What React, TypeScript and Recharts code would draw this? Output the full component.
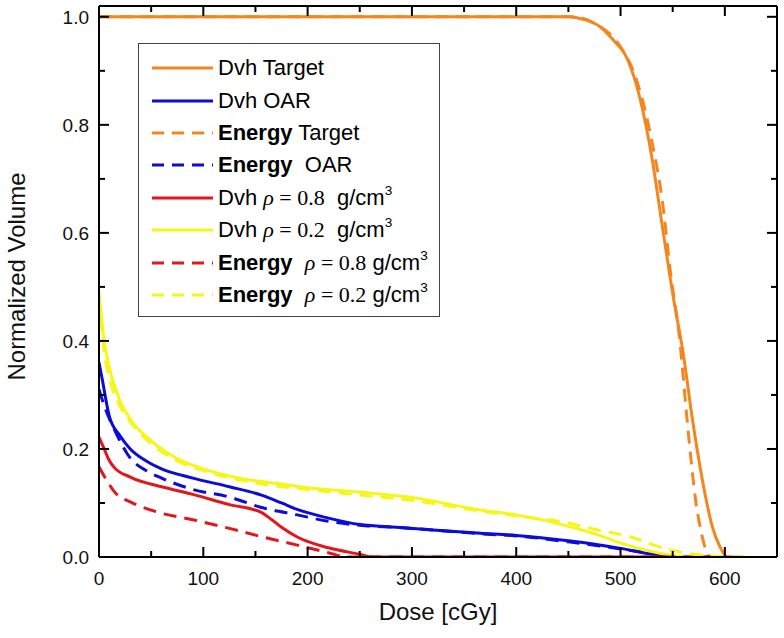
import React from 'react';
import { LineChart, Line, XAxis, YAxis, Legend } from 'recharts';

// tick positions
const doseTicks = [0, 50, 100, 150, 200, 250, 300, 350, 400, 450, 500, 550, 600];
const volumeTicks = [0, 0.1, 0.2, 0.3, 0.4, 0.5, 0.6, 0.7, 0.8, 0.9, 1.0];

// Dvh Target
const dvhTargetDose = [0, 450, 465, 480, 493, 507, 519, 530, 541, 551, 560, 569, 579, 588, 595, 601];
const dvhTargetVol = [1.0, 1.0, 0.995, 0.982, 0.957, 0.92, 0.846, 0.74, 0.6, 0.476, 0.378, 0.254, 0.137, 0.056, 0.02, 0];

// Dvh OAR
const dvhOarDose = [0, 3, 10, 20, 30, 45, 60, 90, 125, 155, 175, 190, 220, 250, 285, 320, 366, 400, 450, 500, 530, 545];
const dvhOarVol = [0.36, 0.33, 0.26, 0.225, 0.2, 0.178, 0.163, 0.146, 0.13, 0.115, 0.1, 0.088, 0.072, 0.06, 0.055, 0.05, 0.044, 0.04, 0.03, 0.016, 0.005, 0];

// Energy Target
const energyTargetDose = [0, 455, 474, 500, 513, 521, 531, 540, 548, 556, 565, 572, 578, 582, 585];
const energyTargetVol = [1.0, 1.0, 0.989, 0.944, 0.896, 0.846, 0.76, 0.66, 0.525, 0.415, 0.23, 0.105, 0.04, 0.012, 0];

// Energy OAR
const energyOarDose = [0, 5, 15, 30, 45, 60, 90, 125, 155, 190, 220, 255, 285, 320, 366, 400, 450, 500, 530, 555];
const energyOarVol = [0.31, 0.28, 0.235, 0.183, 0.16, 0.146, 0.125, 0.111, 0.092, 0.078, 0.066, 0.058, 0.055, 0.05, 0.043, 0.039, 0.028, 0.015, 0.006, 0];

// Dvh rho = 0.8
const dvhRho08Dose = [0, 5, 10, 15, 30, 60, 90, 125, 155, 165, 175, 190, 220, 250, 262, 600];
const dvhRho08Vol = [0.222, 0.2, 0.178, 0.165, 0.148, 0.13, 0.116, 0.097, 0.083, 0.07, 0.055, 0.037, 0.017, 0.005, 0, 0];

// Dvh rho = 0.2
const dvhRho02Dose = [0, 5, 10, 20, 30, 50, 75, 100, 125, 150, 175, 200, 250, 300, 366, 400, 452, 480, 500, 530, 550, 560];
const dvhRho02Vol = [0.49, 0.4, 0.35, 0.29, 0.255, 0.215, 0.182, 0.163, 0.15, 0.141, 0.135, 0.128, 0.12, 0.11, 0.087, 0.078, 0.056, 0.04, 0.026, 0.01, 0.003, 0];

// Energy rho = 0.8
const energyRho08Dose = [0, 7, 16, 30, 60, 90, 125, 155, 190, 220, 237, 620];
const energyRho08Vol = [0.167, 0.143, 0.118, 0.102, 0.081, 0.069, 0.053, 0.038, 0.022, 0.008, 0, 0];

// Energy rho = 0.2
const energyRho02Dose = [0, 5, 10, 20, 30, 50, 75, 100, 150, 200, 250, 300, 366, 400, 450, 478, 510, 532, 560, 590, 623];
const energyRho02Vol = [0.48, 0.38, 0.33, 0.28, 0.25, 0.21, 0.178, 0.16, 0.137, 0.125, 0.115, 0.105, 0.085, 0.076, 0.063, 0.05, 0.037, 0.022, 0.008, 0.002, 0];

const ORANGE = '#f5861f';
const BLUE = '#0b0bdc';
const RED = '#e2161b';
const YELLOW = '#f6f61a';
const DASH = '13 8';

const SANS = '"Liberation Sans", Arial, Helvetica, sans-serif';
const SERIF = '"Liberation Serif", "Times New Roman", serif';

const zip = (dose: number[], vol: number[]) => dose.map((d, i) => ({ d, v: vol[i] }));

const series = [
  { key: 'dvhTarget', data: zip(dvhTargetDose, dvhTargetVol), color: ORANGE, dashed: false },
  { key: 'dvhOar', data: zip(dvhOarDose, dvhOarVol), color: BLUE, dashed: false },
  { key: 'energyTarget', data: zip(energyTargetDose, energyTargetVol), color: ORANGE, dashed: true },
  { key: 'energyOar', data: zip(energyOarDose, energyOarVol), color: BLUE, dashed: true },
  { key: 'dvhRho08', data: zip(dvhRho08Dose, dvhRho08Vol), color: RED, dashed: false },
  { key: 'dvhRho02', data: zip(dvhRho02Dose, dvhRho02Vol), color: YELLOW, dashed: false },
  { key: 'energyRho08', data: zip(energyRho08Dose, energyRho08Vol), color: RED, dashed: true },
  { key: 'energyRho02', data: zip(energyRho02Dose, energyRho02Vol), color: YELLOW, dashed: true },
];

const Rho = ({ v }: { v: string }) => (
  <span style={{ fontFamily: SERIF }}>
    <i>ρ</i> = {v}
  </span>
);
const Gcm = () => (
  <span>
    g/cm<sup style={{ fontSize: '0.62em', verticalAlign: '0.75em', lineHeight: 0 }}>3</sup>
  </span>
);

const legendLabels: React.ReactNode[] = [
  <span>Dvh Target</span>,
  <span>Dvh OAR</span>,
  <span><b>Energy</b> Target</span>,
  <span><b>Energy</b>{'  '}OAR</span>,
  <span>Dvh <Rho v="0.8" />{'  '}<Gcm /></span>,
  <span>Dvh <Rho v="0.2" />{'  '}<Gcm /></span>,
  <span><b>Energy</b>{'  '}<Rho v="0.8" /> <Gcm /></span>,
  <span><b>Energy</b>{'  '}<Rho v="0.2" /> <Gcm /></span>,
];

const LegendBox = () => (
  <div
    style={{
      width: 302,
      height: 274,
      boxSizing: 'border-box',
      border: '1.5px solid #444',
      background: '#fff',
      paddingTop: 8,
      fontFamily: SANS,
      fontSize: 22,
      color: '#000',
    }}
  >
    {series.map((s, i) => (
      <div key={s.key} style={{ height: 32.4, display: 'flex', alignItems: 'center', whiteSpace: 'pre' }}>
        <svg width={76} height={10} style={{ flex: 'none' }}>
          <line
            x1={13}
            x2={74}
            y1={5}
            y2={5}
            stroke={s.color}
            strokeWidth={3}
            strokeDasharray={s.dashed ? '12 8' : undefined}
          />
        </svg>
        <span style={{ marginLeft: 3 }}>{legendLabels[i]}</span>
      </div>
    ))}
  </div>
);

const isMajorDose = (v: number) => Math.round(v) % 100 === 0;
const isMajorVol = (v: number) => Math.round(v * 10) % 2 === 0;

const BottomTick = (props: any) => {
  const { x, y, payload } = props;
  const major = isMajorDose(payload.value);
  return (
    <g>
      <line x1={x} x2={x} y1={y} y2={y - (major ? 10 : 6)} stroke="#000" strokeWidth={2} />
      {major && (
        <text x={x} y={y + 28} textAnchor="middle" fontFamily={SANS} fontSize={19} fill="#111">
          {payload.value}
        </text>
      )}
    </g>
  );
};

const TopTick = (props: any) => {
  const { x, y, payload } = props;
  const major = isMajorDose(payload.value);
  return <line x1={x} x2={x} y1={y} y2={y + (major ? 10 : 6)} stroke="#000" strokeWidth={2} />;
};

const LeftTick = (props: any) => {
  const { x, y, payload } = props;
  const major = isMajorVol(payload.value);
  return (
    <g>
      <line x1={x} x2={x + (major ? 10 : 6)} y1={y} y2={y} stroke="#000" strokeWidth={2} />
      {major && (
        <text x={x - 10} y={y} dy="0.36em" textAnchor="end" fontFamily={SANS} fontSize={19} fill="#111">
          {payload.value.toFixed(1)}
        </text>
      )}
    </g>
  );
};

const RightTick = (props: any) => {
  const { x, y, payload } = props;
  const major = isMajorVol(payload.value);
  return <line x1={x} x2={x - (major ? 10 : 6)} y1={y} y2={y} stroke="#000" strokeWidth={2} />;
};

const axisLine = { stroke: '#000', strokeWidth: 2 };

export default function App() {
  return (
    <div style={{ position: 'absolute', left: 0, top: 0, width: 784, height: 638, background: '#fff' }}>
      <LineChart width={784} height={638} margin={{ top: 5, right: 6, bottom: 80, left: 98 }}>
        <XAxis
          xAxisId="bottom"
          dataKey="d"
          type="number"
          domain={[0, 650]}
          allowDataOverflow
          ticks={doseTicks}
          interval={0}
          height={1}
          tickSize={0}
          tickMargin={0}
          tickLine={false}
          axisLine={axisLine}
          tick={<BottomTick />}
          label={{
            content: (p: any) => (
              <text
                x={p.viewBox.x + p.viewBox.width / 2}
                y={p.viewBox.y + 63}
                textAnchor="middle"
                fontFamily={SANS}
                fontSize={24}
                fill="#111"
              >
                Dose [cGy]
              </text>
            ),
          }}
        />
        <XAxis
          xAxisId="top"
          orientation="top"
          dataKey="d"
          type="number"
          domain={[0, 650]}
          allowDataOverflow
          ticks={doseTicks}
          interval={0}
          height={1}
          tickSize={0}
          tickMargin={0}
          tickLine={false}
          axisLine={axisLine}
          tick={<TopTick />}
        />
        <YAxis
          yAxisId="left"
          type="number"
          domain={[0, 1.02]}
          allowDataOverflow
          ticks={volumeTicks}
          interval={0}
          width={1}
          tickSize={0}
          tickMargin={0}
          tickLine={false}
          axisLine={axisLine}
          tick={<LeftTick />}
          label={{
            content: (p: any) => {
              const cx = p.viewBox.x + p.viewBox.width - 74;
              const cy = p.viewBox.y + p.viewBox.height / 2 - 5;
              return (
                <text
                  x={cx}
                  y={cy}
                  transform={`rotate(-90 ${cx} ${cy})`}
                  textAnchor="middle"
                  fontFamily={SANS}
                  fontSize={24}
                  fill="#111"
                >
                  Normalized Volume
                </text>
              );
            },
          }}
        />
        <YAxis
          yAxisId="right"
          orientation="right"
          type="number"
          domain={[0, 1.02]}
          allowDataOverflow
          ticks={volumeTicks}
          interval={0}
          width={1}
          tickSize={0}
          tickMargin={0}
          tickLine={false}
          axisLine={axisLine}
          tick={<RightTick />}
        />
        {series.map((s) => (
          <Line
            key={s.key}
            xAxisId="bottom"
            yAxisId="left"
            data={s.data}
            dataKey="v"
            type="monotone"
            stroke={s.color}
            strokeWidth={3}
            strokeDasharray={s.dashed ? DASH : undefined}
            dot={false}
            activeDot={false}
            isAnimationActive={false}
          />
        ))}
        <Legend
          layout="vertical"
          align="center"
          verticalAlign="middle"
          wrapperStyle={{ left: 138, top: 43, width: 302, height: 274 }}
          content={() => <LegendBox />}
        />
      </LineChart>
    </div>
  );
}
